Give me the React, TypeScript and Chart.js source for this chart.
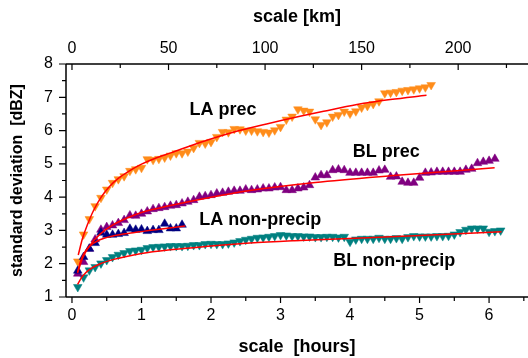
import React, { useEffect, useRef } from "react";
import { Chart, registerables } from "chart.js";

Chart.register(...registerables);

// time of each sample, minutes
const MINUTES = [5,10,15,20,25,30,35,40,45,50,55,60,65,70,75,80,85,90,95,100,105,110,115,120,125,130,135,140,145,150,155,160,165,170,175,180,185,190,195,200,205,210,215,220,225,230,235,240,245,250,255,260,265,270,275,280,285,290,295,300,305,310,315,320,325,330,335,340,345,350,355,360,365,370];

const LA_PREC = [2.07,2.88,3.34,3.73,3.98,4.23,4.43,4.54,4.63,4.79,4.84,4.88,5.14,5.12,5.15,5.19,5.25,5.32,5.32,5.37,5.48,5.63,5.61,5.66,5.81,5.96,5.95,6.05,6.04,6.00,6.00,5.98,5.96,5.94,6.01,6.11,6.33,6.42,6.64,6.60,6.57,6.34,6.17,6.25,6.42,6.47,6.57,6.51,6.58,6.69,6.74,6.80,6.88,7.12,7.14,7.16,7.20,7.22,7.24,7.27,7.30,7.37];
const BL_PREC = [1.70,2.05,2.45,2.73,3.02,3.10,3.15,3.22,3.31,3.45,3.44,3.50,3.57,3.64,3.67,3.70,3.74,3.76,3.81,3.86,3.91,4.01,4.03,4.06,4.11,4.13,4.16,4.19,4.19,4.23,4.21,4.23,4.26,4.26,4.29,4.30,4.21,4.21,4.26,4.29,4.36,4.59,4.66,4.66,4.81,4.83,4.81,4.73,4.73,4.73,4.73,4.73,4.80,4.82,4.61,4.62,4.46,4.43,4.43,4.58,4.73,4.74,4.76,4.76,4.76,4.76,4.76,4.82,4.85,5.02,5.06,5.09,5.15];
const LA_NONPRECIP = [1.79,2.20,2.45,2.62,2.93,2.87,2.87,2.89,2.92,3.05,3.02,3.03,2.98,3.01,3.01,3.20,3.06,3.06,3.17];
const BL_NONPRECIP = [1.30,1.59,1.80,1.90,2.01,2.11,2.20,2.27,2.32,2.38,2.40,2.42,2.47,2.50,2.51,2.52,2.53,2.53,2.53,2.54,2.56,2.56,2.59,2.60,2.59,2.59,2.61,2.64,2.68,2.72,2.75,2.78,2.79,2.81,2.83,2.86,2.85,2.83,2.83,2.82,2.82,2.80,2.80,2.81,2.81,2.79,2.81,2.66,2.73,2.75,2.75,2.75,2.78,2.75,2.75,2.77,2.75,2.80,2.83,2.82,2.82,2.82,2.83,2.83,2.84,2.88,2.95,3.02,3.06,3.06,3.06,2.96,2.98,3.00];

// fitted curves (hours, dBZ)
const FIT_LA_PREC_X = [0.09,0.15,0.22,0.31,0.42,0.53,0.67,0.82,1.0,1.2,1.42,1.84,2.32,2.8,3.28,3.62,4.1,4.58,5.1];
const FIT_LA_PREC_Y = [2.26,2.75,3.16,3.6,4.0,4.3,4.57,4.78,4.99,5.17,5.33,5.64,5.95,6.2,6.43,6.58,6.78,6.93,7.06];
const FIT_BL_PREC_X = [0.08,0.15,0.25,0.4,0.6,0.8,1.0,1.4,2.0,2.56,3.5,4.58,6.08];
const FIT_BL_PREC_Y = [1.72,2.15,2.53,2.88,3.18,3.38,3.54,3.74,4.0,4.2,4.44,4.64,4.88];
const FIT_LA_NON_X = [0.08,0.12,0.17,0.25,0.4,0.6,0.88,1.2,1.63];
const FIT_LA_NON_Y = [1.75,2.05,2.3,2.52,2.72,2.84,2.93,3.02,3.13];
const FIT_BL_NON_X = [0.08,0.15,0.25,0.4,0.6,1.0,1.41,2.0,2.56,3.2,3.9,5.0,6.18];
const FIT_BL_NON_Y = [1.38,1.62,1.82,1.99,2.13,2.31,2.42,2.53,2.62,2.69,2.75,2.85,2.96];

// axes
const X_MIN = -0.086;
const X_MAX = 6.56;
const KM_PER_HOUR = 36;
const Y_MIN = 1;
const Y_MAX = 8;
const X_MAJOR = [0,1,2,3,4,5,6];
const X_MINOR = [0.5,1.5,2.5,3.5,4.5,5.5,6.5];
const KM_MAJOR = [0,50,100,150,200];
const KM_MINOR = [25,75,125,175,225];
const Y_MAJOR = [1,2,3,4,5,6,7,8];
const Y_MINOR = [1.5,2.5,3.5,4.5,5.5,6.5,7.5];

const LABELS = [
  { text: "LA prec", x: 1.69, y: 6.47 },
  { text: "BL prec", x: 4.04, y: 5.21 },
  { text: "LA non-precip", x: 1.83, y: 3.16 },
  { text: "BL non-precip", x: 3.76, y: 1.93 },
];

const FONT = '"Liberation Sans", Arial, Helvetica, sans-serif';

const toPoints = (ys: number[]) => ys.map((y, i) => ({ x: MINUTES[i] / 60, y }));
const toFit = (xs: number[], ys: number[]) => xs.map((x, i) => ({ x, y: ys[i] }));

const decor = {
  id: "decor",
  afterDraw(chart: any) {
    const { ctx, chartArea: a, scales } = chart;
    const sx = scales.x, sy = scales.y, sk = scales.xkm;
    ctx.save();
    ctx.strokeStyle = "#000";
    ctx.lineWidth = 1.5;
    ctx.beginPath();
    ctx.moveTo(a.left, a.top); ctx.lineTo(a.right, a.top);
    ctx.moveTo(a.left, a.top); ctx.lineTo(a.left, a.bottom);
    ctx.moveTo(a.left, a.bottom); ctx.lineTo(a.right, a.bottom);
    ctx.stroke();
    ctx.lineWidth = 1.2;
    ctx.beginPath();
    for (const v of Y_MAJOR) { const p = sy.getPixelForValue(v); ctx.moveTo(a.left - 7, p); ctx.lineTo(a.left, p); }
    for (const v of Y_MINOR) { const p = sy.getPixelForValue(v); ctx.moveTo(a.left - 4, p); ctx.lineTo(a.left, p); }
    for (const v of X_MAJOR) { const p = sx.getPixelForValue(v); ctx.moveTo(p, a.bottom); ctx.lineTo(p, a.bottom + 6); }
    for (const v of X_MINOR) { const p = sx.getPixelForValue(v); ctx.moveTo(p, a.bottom); ctx.lineTo(p, a.bottom + 4); }
    for (const v of KM_MAJOR) { const p = sk.getPixelForValue(v); ctx.moveTo(p, a.top); ctx.lineTo(p, a.top + 6); }
    for (const v of KM_MINOR) { const p = sk.getPixelForValue(v); ctx.moveTo(p, a.top); ctx.lineTo(p, a.top + 4); }
    ctx.stroke();
    ctx.fillStyle = "#000";
    ctx.font = `bold 18px ${FONT}`;
    ctx.textAlign = "left";
    ctx.textBaseline = "alphabetic";
    for (const l of LABELS) {
      ctx.fillText(l.text, sx.getPixelForValue(l.x), sy.getPixelForValue(l.y));
    }
    ctx.restore();
  },
};

export default function App() {
  const ref = useRef<HTMLCanvasElement | null>(null);
  useEffect(() => {
    document.body.style.margin = "0";
    const canvas = ref.current;
    if (!canvas) return;
    const scatter = (label: string, data: number[], color: string, down: boolean, order: number) => ({
      type: "scatter" as const,
      label,
      data: toPoints(data),
      showLine: false,
      pointStyle: "triangle",
      rotation: down ? 180 : 0,
      pointRadius: 5,
      pointBackgroundColor: color,
      pointBorderColor: color,
      pointBorderWidth: 0.5,
      order,
    });
    const fit = (label: string, xs: number[], ys: number[]) => ({
      type: "line" as const,
      label,
      data: toFit(xs, ys),
      borderColor: "#ff0000",
      borderWidth: 1.5,
      pointRadius: 0,
      cubicInterpolationMode: "monotone" as const,
      fill: false,
      order: 0,
    });
    const tickFont = { family: FONT, size: 16 };
    const titleFont = { family: FONT, size: 18, weight: "bold" as const, lineHeight: 1.2 };
    const chart = new Chart(canvas, {
      type: "scatter",
      data: {
        datasets: [
          fit("fit LA prec", FIT_LA_PREC_X, FIT_LA_PREC_Y),
          fit("fit BL prec", FIT_BL_PREC_X, FIT_BL_PREC_Y),
          fit("fit LA non-precip", FIT_LA_NON_X, FIT_LA_NON_Y),
          fit("fit BL non-precip", FIT_BL_NON_X, FIT_BL_NON_Y),
          scatter("LA non-precip", LA_NONPRECIP, "#000080", false, 1),
          scatter("BL prec", BL_PREC, "#800080", false, 2),
          scatter("BL non-precip", BL_NONPRECIP, "#008080", true, 3),
          scatter("LA prec", LA_PREC, "#ff8c1a", true, 4),
        ] as any,
      },
      options: {
        responsive: false,
        animation: false,
        devicePixelRatio: 1,
        layout: { padding: 0, autoPadding: false },
        plugins: { legend: { display: false }, tooltip: { enabled: false } },
        scales: {
          x: {
            type: "linear",
            position: "bottom",
            min: X_MIN,
            max: X_MAX,
            grid: { display: false, drawTicks: false },
            border: { display: false },
            ticks: { stepSize: 1, includeBounds: false, autoSkip: false, maxRotation: 0, padding: 9, color: "#000", font: tickFont },
            title: { display: true, text: "scale  [hours]", color: "#000", font: titleFont, padding: { top: 0, bottom: 0 } },
            afterFit: (s: any) => { s.height = 61; },
          },
          xkm: {
            type: "linear",
            position: "top",
            min: X_MIN * KM_PER_HOUR,
            max: X_MAX * KM_PER_HOUR,
            grid: { display: false, drawTicks: false },
            border: { display: false },
            ticks: { stepSize: 50, includeBounds: false, autoSkip: false, maxRotation: 0, padding: 6, color: "#000", font: tickFont },
            title: { display: true, text: "scale [km]", color: "#000", font: titleFont, padding: { top: 6, bottom: 0 } },
            afterFit: (s: any) => { s.height = 64; },
          },
          y: {
            type: "linear",
            position: "left",
            min: Y_MIN,
            max: Y_MAX,
            grid: { display: false, drawTicks: false },
            border: { display: false },
            ticks: { stepSize: 1, includeBounds: false, autoSkip: false, padding: 13, color: "#000", font: tickFont },
            title: { display: true, text: "standard deviation  [dBZ]", color: "#000", font: { family: FONT, size: 16, weight: "bold" as const, lineHeight: 1.2 }, padding: { top: 8, bottom: 0 } },
            afterFit: (s: any) => { s.width = 66; },
          },
        },
      } as any,
      plugins: [decor],
    });
    return () => chart.destroy();
  }, []);
  return (
    <div style={{ width: 528, height: 358 }}>
      <canvas ref={ref} width={528} height={358} style={{ display: "block", width: 528, height: 358 }} />
    </div>
  );
}
